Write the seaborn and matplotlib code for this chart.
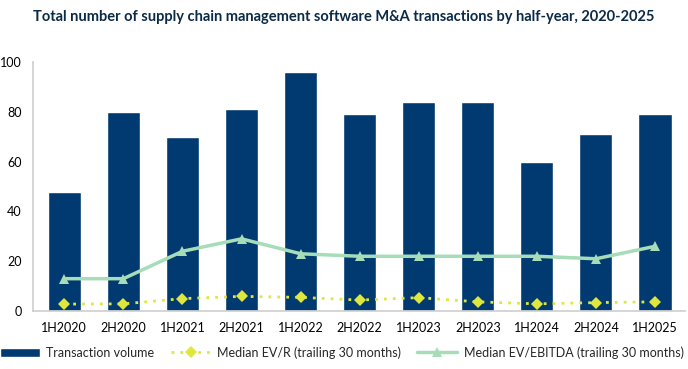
import numpy as np
import pandas as pd
import matplotlib
matplotlib.use("Agg")
import matplotlib.pyplot as plt
import seaborn as sns

periods = ["1H2020", "2H2020", "1H2021", "2H2021", "1H2022", "2H2022",
           "1H2023", "2H2023", "1H2024", "2H2024", "1H2025"]
volume = [48, 80, 70, 81, 96, 79, 84, 84, 60, 71, 79]
ev_r = [2.8, 2.9, 5.0, 5.9, 5.5, 4.4, 5.4, 3.7, 2.9, 3.4, 3.7]
ev_ebitda = [13, 13, 24, 29, 23, 22, 22, 22, 22, 21, 26]

NAVY = "#003a70"
GREEN = "#a6dcb8"
YELLOW = "#dfe73f"

sns.set_theme(style="white")
plt.rcParams["font.family"] = ["Lato", "DejaVu Sans"]

df = pd.DataFrame({"period": periods, "volume": volume,
                   "ev_r": ev_r, "ev_ebitda": ev_ebitda})
df["pos"] = np.arange(len(df))

fig = plt.figure(figsize=(6.88, 3.69), dpi=100)
ax = fig.add_axes([0.048, 0.157, 0.947, 0.675])

sns.barplot(data=df, x="period", y="volume", color=NAVY, width=0.56,
            saturation=1, ax=ax, label="Transaction volume")
sns.lineplot(data=df, x="pos", y="ev_r", color=YELLOW, linestyle=(0, (1, 2.2)),
             linewidth=2, marker="D", markersize=6, markeredgewidth=0,
             ax=ax, label="Median EV/R (trailing 30 months)")
sns.lineplot(data=df, x="pos", y="ev_ebitda", color=GREEN, linewidth=2.5,
             marker="^", markersize=7, markeredgewidth=0,
             ax=ax, label="Median EV/EBITDA (trailing 30 months)")

ax.set_xlim(-0.53, 10.5)
ax.set_ylim(0, 100)
ax.set_yticks([0, 20, 40, 60, 80, 100])
ax.set_xticks(df["pos"])
ax.set_xticklabels(periods)
ax.set_xlabel("")
ax.set_ylabel("")
ax.tick_params(axis="both", labelsize=9, colors="black", length=0, pad=8)
for s in ["top", "right"]:
    ax.spines[s].set_visible(False)
ax.spines["left"].set_color("#d0d0d0")
ax.spines["bottom"].set_color("#d0d0d0")

# bars first in the legend, like the original
handles, labels = ax.get_legend_handles_labels()
order = [labels.index("Transaction volume"),
         labels.index("Median EV/R (trailing 30 months)"),
         labels.index("Median EV/EBITDA (trailing 30 months)")]
ax.get_legend().remove()
fig.legend([handles[i] for i in order], [labels[i] for i in order],
           loc="center", bbox_to_anchor=(0.497, 0.045), ncol=3,
           frameon=False, fontsize=9, handlelength=3.2, columnspacing=1.3,
           handletextpad=0.5, borderaxespad=0)

fig.text(0.5, 0.955, "Total number of supply chain management software M&A transactions by half-year, 2020-2025",
         ha="center", va="center", fontsize=10.5, fontweight="bold", color="#0b2a47")

fig.savefig("out.png", dpi=100)
